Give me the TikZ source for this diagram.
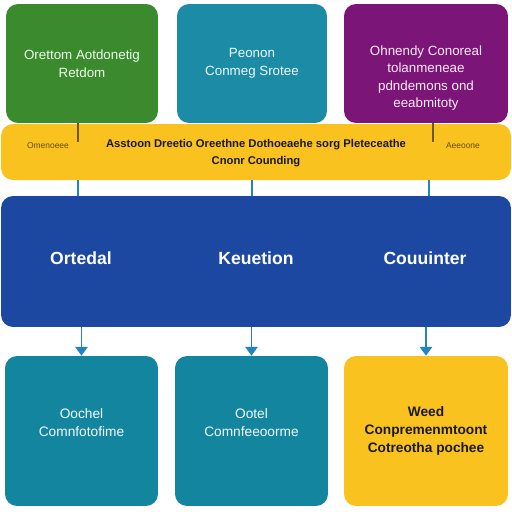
\documentclass[tikz,border=0pt]{standalone}
\usepackage{fontspec}
\setmainfont{Liberation Sans}
\usetikzlibrary{arrows.meta}
\definecolor{boxgreen}{HTML}{3B8A2E}
\definecolor{boxteal}{HTML}{1B8BA6}
\definecolor{boxpurple}{HTML}{7C1578}
\definecolor{bandyellow}{HTML}{F9C21E}
\definecolor{bigblue}{HTML}{1C48A1}
\definecolor{lowteal}{HTML}{14859F}
\definecolor{linkblue}{HTML}{2284C4}
\tikzset{
  box/.style={rectangle,rounded corners=0.24cm,draw=none,align=center,minimum height=2.38cm},
  topbox/.style={box,font=\fontsize{7.6}{10}\selectfont},
  lowbox/.style={box,minimum height=3cm,font=\fontsize{7.8}{10.5}\selectfont},
  lbl/.style={inner sep=0pt,align=center},
  link/.style={draw=linkblue,line width=1.1pt},
  arr/.style={link,-{Triangle[length=5pt,width=7pt]}}
}
\begin{document}
\begin{tikzpicture}[x=0.02cm,y=-0.02cm]
\useasboundingbox[fill=white] (0,0) rectangle (512,512);
% top row
\node[topbox,fill=boxgreen,text=green!8,minimum width=3.04cm] (g1) at (82,63.5) {Orettom Aotdonetig\\Retdom};
\node[topbox,fill=boxteal,text=cyan!6,minimum width=3.0cm] (g2) at (252,63.5) {Peonon\\Conmeg Srotee};
\node[topbox,fill=boxpurple,minimum width=3.28cm] (g3) at (426,63.5) {};
\node[lbl,font=\fontsize{7.6}{10}\selectfont,text=magenta!8] (p3) at (426,78) {Ohnendy Conoreal\\tolanmeneae\\pdndemons ond\\eeabmitoty};
% yellow band
\node[box,fill=bandyellow,minimum width=10.2cm,minimum height=1.12cm] (band) at (256,152) {};
\node[lbl,font=\fontsize{4.8}{6}\selectfont,text=black!60!bandyellow] (bl) at (48,146) {Omenoeee};
\node[lbl,font=\bfseries\fontsize{6.4}{9.5}\selectfont,text=black!90] (bc) at (256,153) {Asstoon Dreetio Oreethne Dothoeaehe sorg Pleteceathe\\Cnonr Counding};
\node[lbl,font=\fontsize{4.8}{6}\selectfont,text=black!60!bandyellow] (br) at (463,146) {Aeeoone};
\coordinate (tl) at (78,142);
\coordinate (tr) at (433,142);
\draw[draw=black!55!bandyellow,line width=0.6pt] (g1.south -| tl) -- (tl);
\draw[draw=black!55!bandyellow,line width=0.6pt] (g3.south -| tr) -- (tr);
% big blue block
\node[box,fill=bigblue,minimum width=10.2cm,minimum height=2.62cm] (blue) at (256,261.5) {};
\node[lbl,font=\bfseries\fontsize{10}{11}\selectfont,text=white] (o1) at (81,258) {Ortedal};
\node[lbl,font=\bfseries\fontsize{10}{11}\selectfont,text=white] (o2) at (256,258) {Keuetion};
\node[lbl,font=\bfseries\fontsize{10}{11}\selectfont,text=white] (o3) at (425,258) {Couuinter};
\draw[link] (band.south -| 78,0) -- (blue.north -| 78,0);
\draw[link] (band.south -| g2) -- (blue.north -| g2);
\draw[link] (band.south -| 429,0) -- (blue.north -| 429,0);
% bottom row
\node[lowbox,fill=lowteal,text=cyan!5,minimum width=3.06cm] (b1) at (81.5,431) {Oochel\\Comnfotofime\\[-1pt]\mbox{}};
\node[lowbox,fill=lowteal,text=cyan!5,minimum width=3.06cm] (b2) at (251.5,431) {Ootel\\Comnfeeoorme\\[-1pt]\mbox{}};
\node[lowbox,fill=bandyellow,text=black!90,minimum width=3.28cm,font=\bfseries\fontsize{7.8}{10}\selectfont] (b3) at (426,431) {Weed\\Conpremenmtoont\\Cotreotha pochee};
\draw[arr] (blue.south -| b1) -- (b1.north);
\draw[arr] (blue.south -| b2) -- (b2.north);
\draw[arr] (blue.south -| b3) -- (b3.north);
\end{tikzpicture}
\end{document}
